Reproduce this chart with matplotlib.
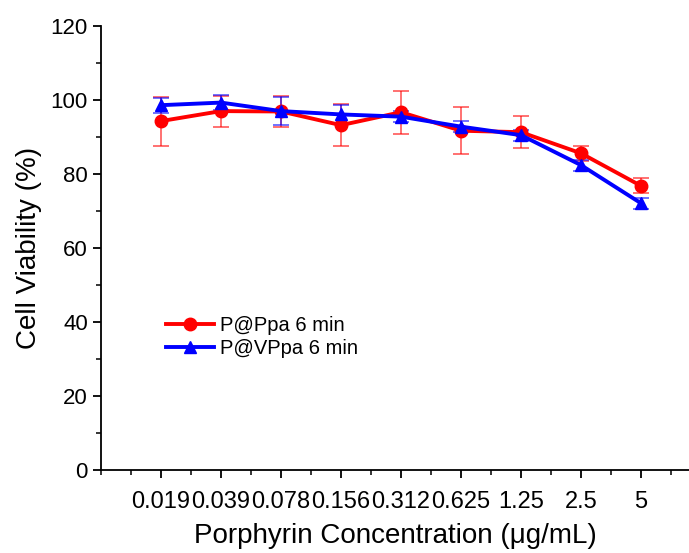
import matplotlib.pyplot as plt
from matplotlib.ticker import MultipleLocator

plt.rcParams['font.family'] = ['Liberation Sans', 'DejaVu Sans']

concentrations = ['0.019', '0.039', '0.078', '0.156', '0.312', '0.625', '1.25', '2.5', '5']
ppa_mean = [94.3, 97.0, 96.9, 93.2, 96.7, 91.7, 91.3, 85.6, 76.8]
ppa_err = [6.6, 4.2, 4.3, 5.6, 5.8, 6.4, 4.4, 2.1, 2.0]
vppa_mean = [98.6, 99.3, 97.0, 96.1, 95.5, 92.8, 90.5, 82.4, 72.1]
vppa_err = [2.0, 2.0, 3.8, 2.5, 1.5, 1.5, 1.5, 1.5, 1.5]

x = list(range(1, len(concentrations) + 1))

fig = plt.figure(figsize=(6.89, 5.53), dpi=100)
ax = fig.add_axes([0.1466, 0.150, 0.8534, 0.803])

# error bars first (semi-transparent), then the lines with markers
ax.errorbar(x, ppa_mean, yerr=ppa_err, fmt='none', elinewidth=1.3, capsize=6,
            capthick=1.3, ecolor=(1, 0, 0, 0.6), zorder=2)
ax.errorbar(x, vppa_mean, yerr=vppa_err, fmt='none', elinewidth=1.3, capsize=6,
            capthick=1.3, ecolor=(0, 0, 1, 0.6), zorder=2)
ax.plot(x, ppa_mean, color='#ff0000', marker='o', markersize=9, linewidth=2.8,
        label='P@Ppa 6 min', zorder=3)
ax.plot(x, vppa_mean, color='#0000ff', marker='^', markersize=9, linewidth=2.8,
        label='P@VPpa 6 min', zorder=4)

ax.set_xlim(0, 9.8)
ax.set_ylim(0, 120)
ax.set_xticks(x)
ax.set_xticklabels(concentrations)
ax.xaxis.set_minor_locator(MultipleLocator(0.5))
ax.yaxis.set_major_locator(MultipleLocator(20))
ax.yaxis.set_minor_locator(MultipleLocator(10))

ax.spines['top'].set_visible(False)
ax.spines['right'].set_visible(False)
ax.spines['left'].set_linewidth(1.3)
ax.spines['bottom'].set_linewidth(1.3)
ax.tick_params(which='major', direction='out', length=6, width=1.3, labelsize=16)
ax.tick_params(which='minor', direction='out', length=3.5, width=1.1)
ax.tick_params(axis='x', pad=9, labelsize=17)

ax.set_xlabel('Porphyrin Concentration (\u03bcg/mL)', fontsize=20, labelpad=7)
ax.set_ylabel('Cell Viability (%)', fontsize=20, labelpad=6)

ax.legend(loc='upper left', bbox_to_anchor=(0.09, 0.375), frameon=False,
          fontsize=14.5, handlelength=2.4, handletextpad=0.3, labelspacing=0.2,
          borderaxespad=0.2)

fig.savefig('out.png', dpi=100)
